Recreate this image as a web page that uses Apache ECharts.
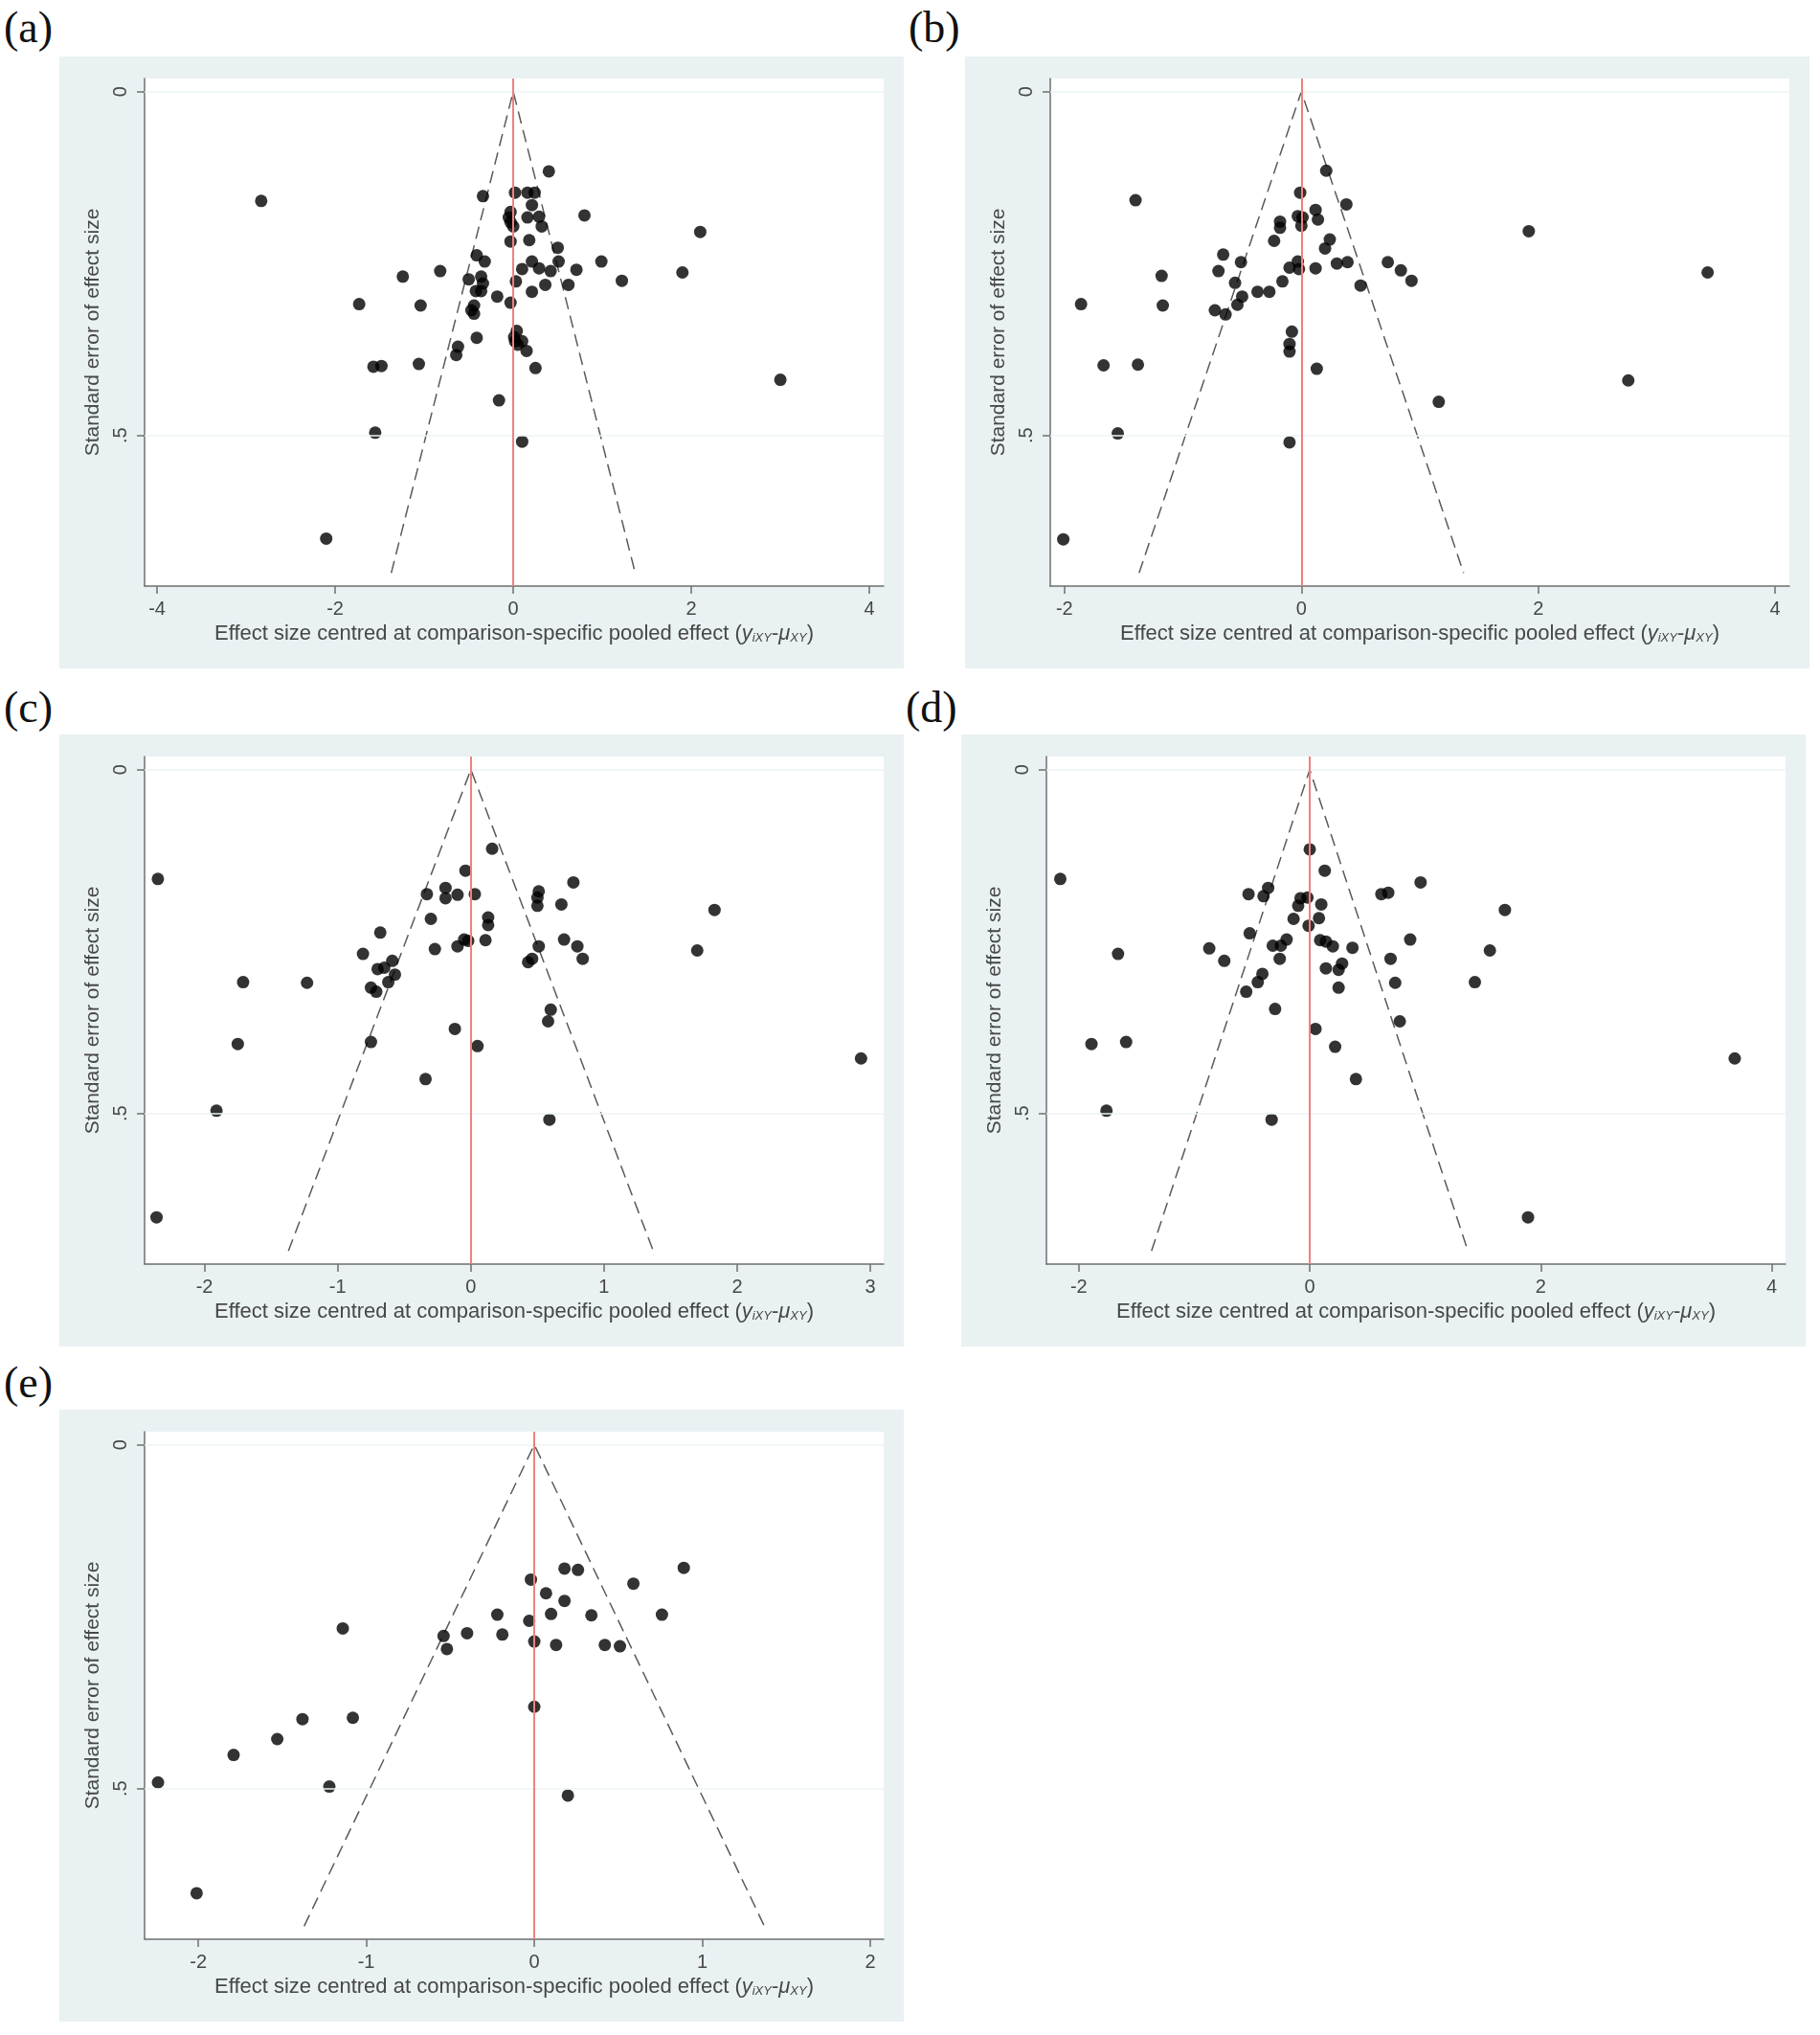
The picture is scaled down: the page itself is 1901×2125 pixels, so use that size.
<!DOCTYPE html>
<html>
<head>
<meta charset="utf-8">
<script src="https://cdn.jsdelivr.net/npm/echarts@6/dist/echarts.min.js"></script>
<style>
  body { margin: 0; background: #fff; width: 1901px; height: 2125px; position: relative; overflow: hidden; }
  .panel { position: absolute; width: 882px; height: 639px; background: #e9f1f3; }
  .lab { position: absolute; font-family: "Liberation Serif", "DejaVu Serif", serif; font-size: 46px; line-height: 1; color: #111; }
</style>
</head>
<body>
<div class="lab" style="left:4px;top:6px">(a)</div>
<div class="lab" style="left:949px;top:6px">(b)</div>
<div class="lab" style="left:4px;top:716px">(c)</div>
<div class="lab" style="left:946px;top:716px">(d)</div>
<div class="lab" style="left:4px;top:1421px">(e)</div>

<div class="panel" id="pa" style="left:62px;top:59px"></div>
<div class="panel" id="pb" style="left:1008px;top:59px"></div>
<div class="panel" id="pc" style="left:62px;top:767px"></div>
<div class="panel" id="pd" style="left:1004px;top:767px"></div>
<div class="panel" id="pe" style="left:62px;top:1472px"></div>

<script>
// effect size centred at comparison-specific pooled effect, and its standard error
const aEffect = [0.40, -2.83, -0.34, 0.02, 0.16, 0.24, 0.21, 0.80, -0.03, -0.05, -0.03, 0.00, 0.16, 0.29, 0.32, 2.10,
  -0.03, 0.18, 0.50, -0.41, -0.32, 0.51, 0.99, 0.21, 0.10, 0.29, 0.42, 0.71, -0.82, 1.90, -1.24, -0.50, -0.36, -0.34,
  0.03, 1.22, 0.62, 0.36, -0.42, -0.36, 0.21, -0.18, -0.03, -1.73, -1.04, -0.44, -0.47, -0.44, 0.04, 0.01, 0.02, 0.05,
  -0.41, -0.62, -0.64, 0.10, 0.15, -1.57, -1.48, -1.06, 0.25, 3.00, -0.16, -1.55, 0.10, -2.10];
const aSE = [0.116, 0.159, 0.152, 0.147, 0.147, 0.147, 0.165, 0.180, 0.175, 0.183, 0.190, 0.196, 0.183, 0.182, 0.196, 0.204,
  0.218, 0.216, 0.227, 0.238, 0.247, 0.247, 0.247, 0.247, 0.258, 0.257, 0.261, 0.259, 0.261, 0.263, 0.269, 0.273, 0.269, 0.279,
  0.276, 0.275, 0.281, 0.281, 0.290, 0.290, 0.291, 0.298, 0.307, 0.309, 0.311, 0.311, 0.318, 0.323, 0.348, 0.357, 0.363, 0.368,
  0.358, 0.371, 0.383, 0.363, 0.377, 0.400, 0.399, 0.396, 0.402, 0.419, 0.449, 0.496, 0.509, 0.650];

const bEffect = [0.21, -1.40, -0.01, 0.38, 0.12, 0.14, -0.03, 0.01, 0.00, -0.18, -0.18, 1.92, -0.23, 0.24, 0.20, -0.66,
  -0.51, -0.70, -1.18, -0.10, -0.03, -0.02, 0.12, 0.30, 0.39, 0.73, 0.84, 0.93, 0.50, 3.43, -0.56, -0.16, -0.37, -0.27,
  -0.50, -0.54, -1.86, -1.17, -0.73, -0.64, -0.08, -0.10, -0.10, -1.67, -1.38, 0.13, 2.76, 1.16, -1.55, -0.10, -2.01];
const bSE = [0.115, 0.158, 0.147, 0.164, 0.172, 0.186, 0.181, 0.183, 0.195, 0.189, 0.198, 0.203, 0.217, 0.215, 0.228, 0.237,
  0.248, 0.261, 0.268, 0.256, 0.247, 0.258, 0.257, 0.250, 0.248, 0.248, 0.260, 0.275, 0.282, 0.263, 0.278, 0.276, 0.291, 0.291,
  0.298, 0.310, 0.309, 0.311, 0.318, 0.324, 0.349, 0.367, 0.378, 0.398, 0.397, 0.403, 0.420, 0.451, 0.497, 0.510, 0.651];

const cEffect = [0.16, -2.35, -0.04, 0.77, -0.33, -0.19, -0.19, -0.10, 0.03, 0.51, 0.50, 0.50, 0.68, 1.83, -0.30, 0.13,
  0.13, -0.68, 0.70, -0.05, -0.02, 0.11, -0.10, -0.27, 0.51, 0.80, 0.84, 1.70, -0.81, -0.59, -0.70, -0.65, -0.57, -0.62,
  0.43, 0.46, -1.71, -1.23, -0.75, -0.71, 0.60, 0.58, -0.12, -0.75, -1.75, 0.05, 2.93, -0.34, -1.91, 0.59, -2.36];
const cSE = [0.115, 0.159, 0.147, 0.164, 0.181, 0.172, 0.187, 0.182, 0.181, 0.177, 0.186, 0.198, 0.196, 0.204, 0.217, 0.215,
  0.226, 0.237, 0.247, 0.247, 0.249, 0.248, 0.257, 0.261, 0.257, 0.257, 0.275, 0.263, 0.268, 0.278, 0.290, 0.288, 0.298, 0.309,
  0.280, 0.275, 0.309, 0.310, 0.317, 0.323, 0.349, 0.366, 0.377, 0.396, 0.399, 0.402, 0.420, 0.450, 0.496, 0.509, 0.651];

const dEffect = [0.00, -2.16, 0.13, 0.96, -0.53, -0.36, -0.40, -0.08, -0.02, -0.10, 0.10, 0.62, 0.68, 1.69, -0.14, 0.08,
  -0.01, -0.52, 0.87, -0.20, 0.09, 0.14, 0.20, -0.32, -0.25, 0.37, -0.87, -1.66, 1.56, -0.74, -0.26, 0.70, 0.14, 0.28,
  0.25, -0.41, -0.45, 1.43, 0.74, -0.55, 0.25, -0.30, 0.78, 0.05, -1.89, -1.59, 0.22, 3.68, 0.40, -1.76, -0.33, 1.89];
const dSE = [0.116, 0.159, 0.147, 0.164, 0.181, 0.172, 0.184, 0.187, 0.186, 0.198, 0.196, 0.181, 0.179, 0.204, 0.217, 0.216,
  0.227, 0.238, 0.247, 0.247, 0.248, 0.250, 0.257, 0.256, 0.256, 0.259, 0.260, 0.268, 0.263, 0.278, 0.275, 0.275, 0.289, 0.282,
  0.291, 0.297, 0.309, 0.309, 0.310, 0.323, 0.317, 0.348, 0.366, 0.377, 0.399, 0.396, 0.403, 0.420, 0.450, 0.496, 0.509, 0.651];

const eEffect = [0.18, 0.26, 0.89, -0.02, 0.59, 0.07, 0.18, -0.22, 0.10, 0.34, 0.76, -0.03, -1.14, -0.54, -0.40, -0.19,
  0.00, 0.13, 0.42, 0.51, -0.52, 0.00, -1.38, -1.08, -1.53, -1.79, -2.24, -1.22, 0.20, -2.01];
const eSE = [0.180, 0.182, 0.179, 0.196, 0.202, 0.216, 0.227, 0.247, 0.246, 0.248, 0.247, 0.256, 0.267, 0.278, 0.274, 0.276,
  0.286, 0.291, 0.291, 0.293, 0.297, 0.381, 0.399, 0.397, 0.428, 0.451, 0.491, 0.497, 0.510, 0.652];

// pseudo confidence funnel (dashed)
const funnelX = [-1.37, 0, 1.37];
const funnelSE = [0.70, 0, 0.70];

const seTicks = [0, 0.5];
const seMin = -0.019;
const seMax = 0.719;

const gray = '#6f6f6f';
const txt = '#474747';
const font = '"Liberation Sans", Arial, sans-serif';

function makePanel(domId, effect, se, xMin, xMax, xTicks) {
  const chart = echarts.init(document.getElementById(domId));
  const pts = effect.map((x, i) => [x, se[i]]);
  const funnel = funnelX.map((x, i) => [x, funnelSE[i]]);
  chart.setOption({
    animation: false,
    grid: { left: 89, top: 23, width: 772, height: 530, show: true, backgroundColor: '#fff', borderWidth: 0 },
    xAxis: {
      type: 'value', min: xMin, max: xMax,
      axisLine: { onZero: false, lineStyle: { color: gray, width: 1.5 } },
      axisTick: { customValues: xTicks, length: 8, lineStyle: { color: gray, width: 1.5 } },
      axisLabel: { customValues: xTicks, margin: 14, fontSize: 20, color: txt, fontFamily: font },
      splitLine: { show: false },
      name: 'Effect size centred at comparison-specific pooled effect ({it|y}{sub|iXY}-{it|μ}{sub|XY})',
      nameLocation: 'middle', nameGap: 35,
      nameTextStyle: {
        fontSize: 22, color: txt, fontFamily: font,
        rich: {
          it: { fontSize: 22, fontStyle: 'italic', color: txt, fontFamily: font },
          sub: { fontSize: 13, fontStyle: 'italic', color: txt, fontFamily: font, verticalAlign: 'bottom', padding: [7, 0, 0, 0] }
        }
      }
    },
    yAxis: {
      type: 'value', inverse: true, min: seMin, max: seMax,
      axisLine: { onZero: false, lineStyle: { color: gray, width: 1.5 } },
      axisTick: { customValues: seTicks, length: 8, lineStyle: { color: gray, width: 1.5 } },
      axisLabel: {
        customValues: seTicks, rotate: 90, margin: 15, fontSize: 20, color: txt, fontFamily: font,
        formatter: v => String(v).replace(/^0\./, '.')
      },
      splitLine: { show: false },
      name: 'Standard error of effect size',
      nameLocation: 'middle', nameRotate: 90, nameGap: 34,
      nameTextStyle: { fontSize: 21, color: txt, fontFamily: font }
    },
    series: [
      {
        type: 'line', data: funnel, symbol: 'none', silent: true, z: 2,
        lineStyle: { color: '#5a5a5a', width: 1.5, type: [13, 7] },
        markLine: {
          silent: true, symbol: ['none', 'none'], label: { show: false },
          data: [
            { yAxis: 0, lineStyle: { color: '#edf3f4', width: 1.5, type: 'solid' } },
            { yAxis: 0.5, lineStyle: { color: '#edf3f4', width: 1.5, type: 'solid' } },
            { xAxis: 0, lineStyle: { color: '#f08080', width: 2, type: 'solid' } }
          ]
        }
      },
      {
        type: 'scatter', data: pts, symbolSize: 13, z: 3,
        itemStyle: { color: '#000' }
      }
    ]
  });
}

makePanel('pa', aEffect, aSE, -4.14, 4.16, [-4, -2, 0, 2, 4]);
makePanel('pb', bEffect, bSE, -2.12, 4.12, [-2, 0, 2, 4]);
makePanel('pc', cEffect, cSE, -2.45, 3.10, [-2, -1, 0, 1, 2, 3]);
makePanel('pd', dEffect, dSE, -2.28, 4.12, [-2, 0, 2, 4]);
makePanel('pe', eEffect, eSE, -2.32, 2.08, [-2, -1, 0, 1, 2]);
</script>
</body>
</html>
